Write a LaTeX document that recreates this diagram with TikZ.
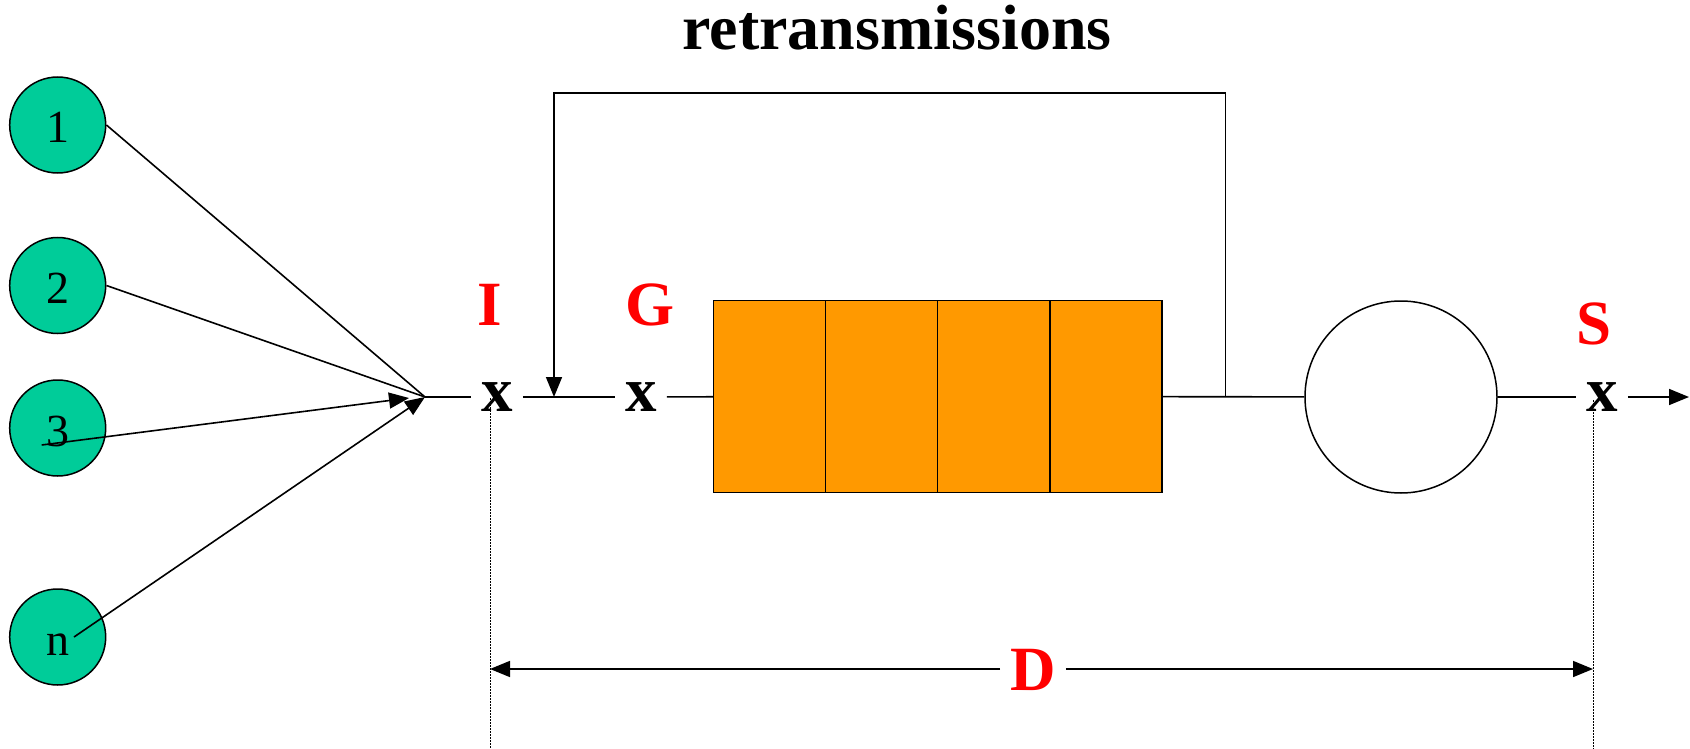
\documentclass[tikz,border=0pt]{standalone}
\usepackage{fontspec}
\setmainfont{Liberation Serif}
\usetikzlibrary{arrows.meta}
\definecolor{srcgreen}{HTML}{00CC99}
\definecolor{qorange}{HTML}{FF9900}
\definecolor{lblred}{HTML}{FF0000}
\begin{document}
\begin{tikzpicture}[x=1pt,y=-1pt,
  src/.style={circle, draw, line width=1.5pt, fill=srcgreen, minimum size=96pt, inner sep=0pt,
    font=\fontsize{46}{46}\selectfont, text height=36pt, text depth=0pt},
  wire/.style={line width=1.6pt},
  tip/.style={-{Triangle[length=20pt,width=16pt]}},
  xmark/.style={font=\bfseries\fontsize{63}{63}\selectfont, inner sep=0pt, inner xsep=10pt,
    text height=29pt, text depth=0pt},
  redlabel/.style={text=lblred, font=\bfseries\fontsize{63}{63}\selectfont, anchor=base, inner sep=0pt},
  cell/.style={draw, line width=1.5pt, fill=qorange, minimum width=112.1pt, minimum height=191.8pt, inner sep=0pt},
  server/.style={circle, draw, line width=1.5pt, minimum size=192pt, inner sep=0pt},
  dotline/.style={line width=1pt, dash pattern=on 1.5pt off 1.5pt}
]
\useasboundingbox (0,0) rectangle (1690,749);

% title
\node[font=\bfseries\fontsize{64}{64}\selectfont, anchor=base, inner sep=0pt] (title) at (897,50) {retransmissions};

% sources
\node[src] (c1) at (57.7,125) {1};
\node[src] (c2) at (57.7,285.5) {2};
\node[src] (c3) at (57.7,428) {3};
\node[src] (cn) at (57.7,637) {n};

\coordinate (conv) at (425,397);
\coordinate (s3) at (41.7,445);
\coordinate (t3) at (409,398);
\coordinate (sn) at (74,637);

\draw[wire] (c1.east) -- (conv);
\draw[wire] (c2.east) -- (conv);
\draw[wire,tip] (s3) -- (t3);
\draw[wire,tip] (sn) -- (conv);

% marks
\node[xmark] (xI) at (497,397) {x};
\node[xmark] (xG) at (641,397) {x};
\node[xmark] (xS) at (1602,397) {x};

\node[redlabel] (lI) at (490,325) {I};
\node[redlabel] (lG) at (650,325) {G};
\node[redlabel] (lS) at (1594,344) {S};

% queue
\node[cell] (q1) at (769.55,396.6) {};
\node[cell] (q2) at (881.65,396.6) {};
\node[cell] (q3) at (993.75,396.6) {};
\node[cell] (q4) at (1105.85,396.6) {};

% server
\node[server] (srv) at (1401,397) {};

\coordinate (out) at (1689,397);
\coordinate (fbR) at (1225.5,397);
\coordinate (fbL) at (554,397);

\draw[wire] (conv) -- (xI);
\draw[wire] (xI) -- (xG);
\draw[wire] (xG) -- (q1);
\draw[wire] (q4) -- (srv);
\draw[wire] (srv) -- (xS);
\draw[wire,tip] (xS) -- (out);

% feedback
\draw[wire,tip] (fbR) -- ++(0,-304) -| (fbL);

% dotted verticals
\coordinate (dI) at (490,398);
\coordinate (dS) at (1593,400);
\draw[dotline] (dI) -- (dI |- 0,749);
\draw[dotline] (dS) -- (dS |- 0,749);

% D dimension
\coordinate (dimL) at (490,669);
\coordinate (dimR) at (1593,669);
\node[text=lblred, font=\bfseries\fontsize{63}{63}\selectfont, inner sep=0pt, inner xsep=10pt,
  text height=42pt, text depth=0pt] (Dlab) at (1033,669) {D};
\draw[wire,tip] (Dlab) -- (dimL);
\draw[wire,tip] (Dlab) -- (dimR);
\end{tikzpicture}
\end{document}
